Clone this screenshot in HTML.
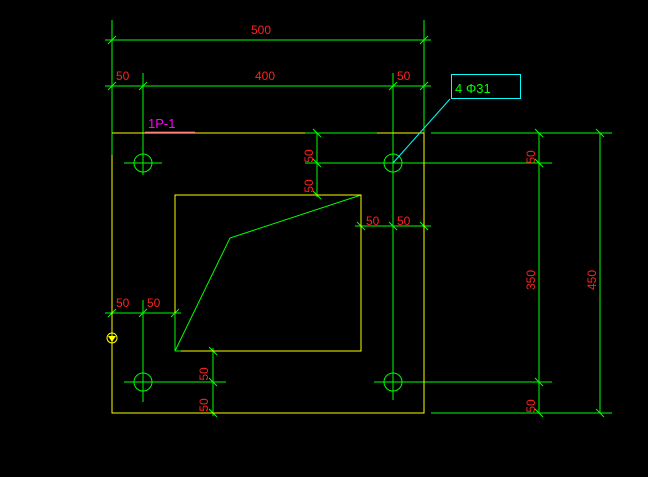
<!DOCTYPE html>
<html><head><meta charset="utf-8"><style>
html,body{margin:0;padding:0;background:#000;}
svg{display:block}
text{font-family:"Liberation Sans",sans-serif;font-size:12px;fill:#ff2020}
</style></head><body>
<svg width="648" height="477" viewBox="0 0 648 477" xmlns="http://www.w3.org/2000/svg">
<g stroke="#00ff00" stroke-width="1" fill="none">
<!-- top dims -->
<line x1="112" y1="20" x2="112" y2="410"/>
<line x1="424" y1="20" x2="424" y2="160"/>
<line x1="105" y1="40" x2="431" y2="40"/>
<line x1="105" y1="86" x2="431" y2="86"/>
<line x1="143" y1="73" x2="143" y2="175"/>
<line x1="393" y1="73" x2="393" y2="400"/>
<!-- holes -->
<circle cx="143" cy="163" r="9"/><circle cx="393" cy="163" r="9"/>
<circle cx="143" cy="382" r="9"/><circle cx="393" cy="382" r="9"/>
<line x1="124" y1="163" x2="162" y2="163"/>
<line x1="305" y1="163" x2="552" y2="163"/>
<line x1="124" y1="382" x2="226" y2="382"/>
<line x1="374" y1="382" x2="552" y2="382"/>
<line x1="143" y1="300" x2="143" y2="402"/>
<!-- inner dims -->
<line x1="317" y1="133" x2="317" y2="197"/>
<line x1="305" y1="133" x2="377" y2="133"/>
<line x1="317" y1="195" x2="361" y2="195"/>
<line x1="361" y1="195" x2="361" y2="226"/>
<line x1="355" y1="226" x2="431" y2="226"/>
<line x1="105" y1="313" x2="181" y2="313"/>
<line x1="175" y1="313" x2="175" y2="351"/>
<line x1="175" y1="351" x2="225" y2="351"/>
<line x1="213" y1="348" x2="213" y2="416"/>
<line x1="191" y1="413" x2="225" y2="413"/>
<!-- right dims -->
<line x1="431" y1="133" x2="612" y2="133"/>
<line x1="431" y1="413" x2="612" y2="413"/>
<line x1="539" y1="133" x2="539" y2="413"/>
<line x1="600" y1="133" x2="600" y2="413"/>
<!-- diagonal -->
<polyline points="175,351 230,238 361,195"/>
<!-- ticks -->
<g>
<path d="M108,44l8,-8M420,44l8,-8M108,90l8,-8M139,90l8,-8M389,90l8,-8M420,90l8,-8"/>
<path d="M313,129l8,8M313,159l8,8M313,191l8,8M357,222l8,8M389,222l8,8M420,222l8,8"/>
<path d="M108,317l8,-8M139,317l8,-8M171,317l8,-8"/>
<path d="M209,347l8,8M209,378l8,8M209,409l8,8"/>
<path d="M535,129l8,8M535,159l8,8M535,378l8,8M535,409l8,8M596,129l8,8M596,409l8,8"/>
</g>
</g>
<!-- plate -->
<g stroke="#ffff00" fill="none">
<polyline points="112,133 305,133"/><polyline points="377,133 424,133 424,413 191,413"/>
<polyline points="112,155 112,413 191,413"/>
<polyline points="181,351 361,351 361,195 175,195 175,313"/>
</g>
<!-- leader -->
<line x1="393" y1="163" x2="450" y2="99" stroke="#00ffff"/>
<rect x="451.5" y="74.5" width="69" height="24" fill="none" stroke="#00ffff"/>
<text x="455" y="93" style="fill:#00ff00;font-size:13px">4 Φ31</text>
<!-- label -->
<text x="148" y="128" style="fill:#ff00ff;font-size:13px">1P-1</text>
<line x1="145" y1="132" x2="195" y2="132" stroke="#ff00ff"/>
<!-- weld symbol -->
<circle cx="112" cy="338" r="5" fill="none" stroke="#ffff00"/>
<path d="M108,336 L116,336 L112,342 Z" fill="#ffff00"/>
<!-- dim texts -->
<text x="251" y="34">500</text>
<text x="255" y="80">400</text>
<text x="116" y="80">50</text>
<text x="397" y="80">50</text>
<text x="366" y="225">50</text>
<text x="397" y="225">50</text>
<text x="116" y="307">50</text>
<text x="147" y="307">50</text>
<g>
<text transform="translate(313,156) rotate(-90)" text-anchor="middle">50</text>
<text transform="translate(313,186) rotate(-90)" text-anchor="middle">50</text>
<text transform="translate(535,157) rotate(-90)" text-anchor="middle">50</text>
<text transform="translate(535,280) rotate(-90)" text-anchor="middle">350</text>
<text transform="translate(535,406) rotate(-90)" text-anchor="middle">50</text>
<text transform="translate(596,280) rotate(-90)" text-anchor="middle">450</text>
<text transform="translate(208,374) rotate(-90)" text-anchor="middle">50</text>
<text transform="translate(208,405) rotate(-90)" text-anchor="middle">50</text>
</g>
</svg>
</body></html>
